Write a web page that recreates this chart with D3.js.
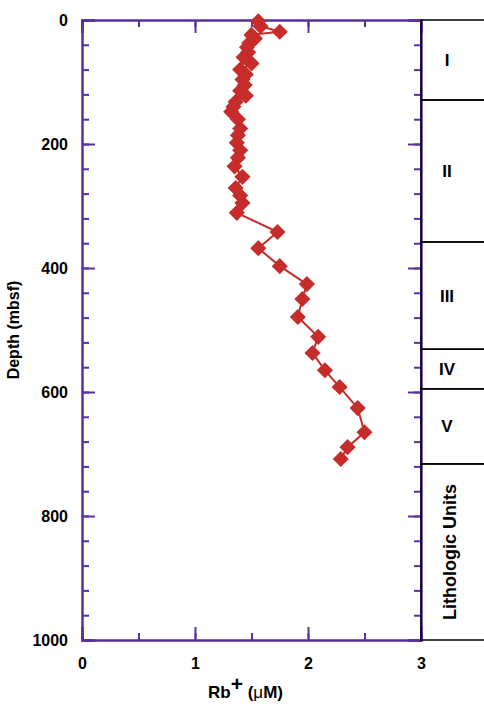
<!DOCTYPE html>
<html>
<head>
<meta charset="utf-8">
<script src="https://cdn.jsdelivr.net/npm/d3@7"></script>
<style>
  body { margin: 0; background: #fff; }
  svg { display: block; font-family: "Liberation Sans", Arial, sans-serif; }
</style>
</head>
<body>
<div id="chart"></div>
<script>
// Rb+ porewater profile
const depths = [2, 10, 19, 24, 30, 37, 44, 52, 60, 70, 80, 88, 96, 105, 114, 122, 132, 140, 148, 160, 175, 186, 198, 210, 222, 236, 253, 271, 283, 295, 311, 342, 368, 397, 426, 450, 479, 511, 537, 565, 592, 626, 665, 689, 708];
const rb =     [1.56, 1.58, 1.75, 1.50, 1.53, 1.48, 1.46, 1.47, 1.43, 1.50, 1.40, 1.45, 1.42, 1.44, 1.40, 1.45, 1.36, 1.34, 1.32, 1.38, 1.40, 1.38, 1.37, 1.40, 1.38, 1.35, 1.42, 1.36, 1.40, 1.42, 1.37, 1.73, 1.56, 1.75, 1.99, 1.95, 1.91, 2.09, 2.04, 2.15, 2.28, 2.44, 2.50, 2.35, 2.29];

const xTicks = [0, 1, 2, 3];
const yTicks = [0, 200, 400, 600, 800, 1000];

// lithologic units: name, top depth, bottom depth
const unitNames = ["I", "II", "III", "IV", "V", ""];
const unitTops = [0, 129, 358, 531, 595, 716];
const unitBottoms = [129, 358, 531, 595, 716, 1000];

const W = 484, H = 707;
const margin = { top: 20, right: 63, bottom: 67, left: 82 };
const width = W - margin.left - margin.right;
const height = H - margin.top - margin.bottom;
const axisColor = "#5a2f9e";
const markColor = "#c62d2a";

const svg = d3.select("#chart").append("svg")
  .attr("width", W).attr("height", H);
const g = svg.append("g").attr("transform", `translate(${margin.left},${margin.top})`);

const x = d3.scaleLinear().domain([0, 3]).range([0, width]);
const y = d3.scaleLinear().domain([0, 1000]).range([0, height]);

const xMinor = d3.range(0, 3.01, 0.5);
const yMinor = d3.range(0, 1001, 40);

// axes (ticks on all four sides, pointing inward)
function styleAxis(sel) {
  sel.select(".domain").attr("stroke", axisColor).attr("stroke-width", 2);
  sel.selectAll(".tick line").attr("stroke", axisColor).attr("stroke-width", 2);
}
const tickFmt = d3.format("d");

g.append("g").call(d3.axisRight(y).tickValues(yMinor).tickSize(7).tickFormat(""))
  .call(styleAxis);
g.append("g").call(d3.axisRight(y).tickValues(yTicks).tickSize(13).tickFormat(""))
  .call(styleAxis);
g.append("g").call(d3.axisLeft(y).tickValues(yTicks).tickSize(0).tickPadding(14).tickFormat(tickFmt))
  .call(sel => {
    sel.select(".domain").remove();
    sel.selectAll("text").attr("fill", "#000").style("font-size", "16px").style("font-weight", "bold");
  });

g.append("g").attr("transform", `translate(${width},0)`)
  .call(d3.axisLeft(y).tickValues(yMinor).tickSize(7).tickFormat("")).call(styleAxis);
g.append("g").attr("transform", `translate(${width},0)`)
  .call(d3.axisLeft(y).tickValues(yTicks).tickSize(13).tickFormat("")).call(styleAxis);

g.append("g").attr("transform", `translate(0,${height})`)
  .call(d3.axisTop(x).tickValues(xMinor).tickSize(7).tickFormat("")).call(styleAxis);
g.append("g").attr("transform", `translate(0,${height})`)
  .call(d3.axisTop(x).tickValues(xTicks).tickSize(13).tickFormat("")).call(styleAxis);
g.append("g").attr("transform", `translate(0,${height})`)
  .call(d3.axisBottom(x).tickValues(xTicks).tickSize(0).tickPadding(18).tickFormat(tickFmt))
  .call(sel => {
    sel.select(".domain").remove();
    sel.selectAll("text").attr("fill", "#000").style("font-size", "16px").style("font-weight", "bold");
  });

g.append("g").call(d3.axisBottom(x).tickValues(xMinor).tickSize(7).tickFormat("")).call(styleAxis);
g.append("g").call(d3.axisBottom(x).tickValues(xTicks).tickSize(13).tickFormat("")).call(styleAxis);

// lithologic unit column
const units = g.append("g").attr("transform", `translate(${width},0)`);
unitNames.forEach((n, i) => {
  units.append("rect")
    .attr("x", 0).attr("y", y(unitTops[i]))
    .attr("width", 64).attr("height", y(unitBottoms[i]) - y(unitTops[i]))
    .attr("fill", "none").attr("stroke", "#000").attr("stroke-width", 1.5);
  if (n) {
    units.append("text")
      .attr("x", 26).attr("y", (y(unitTops[i]) + y(unitBottoms[i])) / 2 + 6)
      .attr("text-anchor", "middle")
      .style("font-size", "17px").style("font-weight", "bold")
      .text(n);
  }
});
units.append("text")
  .attr("transform", `translate(35,${(y(716) + y(1000)) / 2}) rotate(-90)`)
  .attr("text-anchor", "middle")
  .style("font-size", "18px").style("font-weight", "bold")
  .text("Lithologic Units");

// data line and markers
const pts = depths.map((d, i) => ({ d, v: rb[i] }));
g.append("path")
  .datum(pts)
  .attr("fill", "none").attr("stroke", markColor).attr("stroke-width", 2)
  .attr("d", d3.line().x(p => x(p.v)).y(p => y(p.d)));

g.selectAll(".mk").data(pts).join("path")
  .attr("class", "mk")
  .attr("d", d3.symbol(d3.symbolSquare, 130))
  .attr("transform", p => `translate(${x(p.v)},${y(p.d)}) rotate(45)`)
  .attr("fill", markColor);

// axis titles
g.append("text")
  .attr("transform", `translate(-63,${height / 2}) rotate(-90)`)
  .attr("text-anchor", "middle")
  .style("font-size", "16px").style("font-weight", "bold")
  .text("Depth (mbsf)");

const xt = g.append("text")
  .attr("x", width / 2 - 6).attr("y", height + 58)
  .attr("text-anchor", "middle")
  .style("font-size", "17px").style("font-weight", "bold");
xt.append("tspan").text("Rb");
xt.append("tspan").attr("dy", -7).style("font-size", "21px").text("+");
xt.append("tspan").attr("dy", 7).text(" (");
xt.append("tspan").style("font-weight", "normal").text("μ");
xt.append("tspan").text("M)");
</script>
</body>
</html>
